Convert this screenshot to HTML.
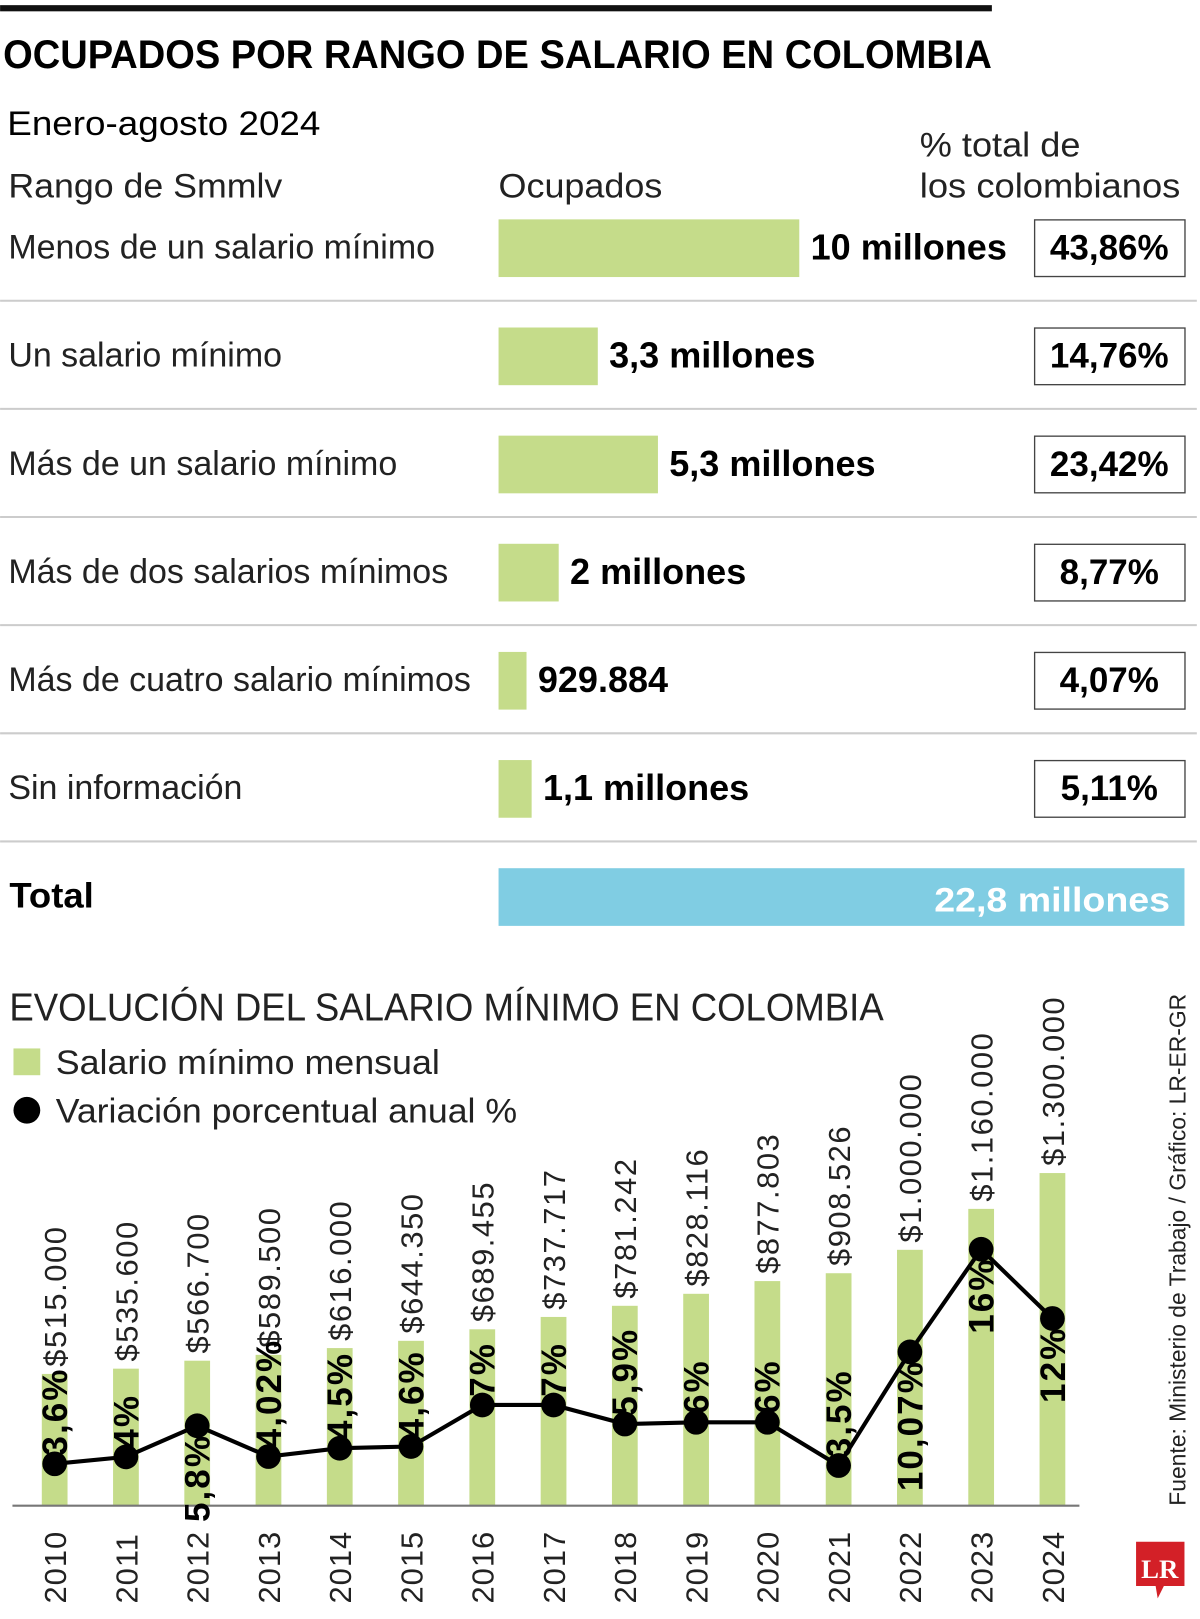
<!DOCTYPE html>
<html><head><meta charset="utf-8"><style>
html,body{margin:0;padding:0;background:#fff;width:1200px;height:1619px;overflow:hidden}
svg{display:block}
text{font-family:"Liberation Sans",sans-serif}
</style></head><body>
<svg id="s" width="1200" height="1619" viewBox="0 0 1165 1572" xmlns="http://www.w3.org/2000/svg">
<rect x="0" y="5" width="963" height="6" fill="#111"/>
<text x="3" y="66" font-weight="bold" font-size="39" textLength="960" lengthAdjust="spacingAndGlyphs">OCUPADOS POR RANGO DE SALARIO EN COLOMBIA</text>
<text x="7" y="131" font-size="33" textLength="304" lengthAdjust="spacingAndGlyphs">Enero-agosto 2024</text>
<text x="8" y="192" font-size="33" fill="#222" textLength="266" lengthAdjust="spacingAndGlyphs">Rango de Smmlv</text>
<text x="484" y="192" font-size="33" fill="#222" textLength="159" lengthAdjust="spacingAndGlyphs">Ocupados</text>
<text x="893" y="152" font-size="33" fill="#222" textLength="156" lengthAdjust="spacingAndGlyphs">% total de</text>
<text x="893" y="192" font-size="33" fill="#222" textLength="253" lengthAdjust="spacingAndGlyphs">los colombianos</text>
<g id="rows"></g>
<rect x="484" y="843" width="666" height="56" fill="#80cde3"/>
<text x="9" y="881" font-weight="bold" font-size="34" textLength="82" lengthAdjust="spacingAndGlyphs">Total</text>
<text x="1136" y="885" text-anchor="end" font-weight="bold" font-size="33" fill="#fff" textLength="229" lengthAdjust="spacingAndGlyphs">22,8 millones</text>
<text x="9" y="991" font-size="38" fill="#222" textLength="849" lengthAdjust="spacingAndGlyphs">EVOLUCIÓN DEL SALARIO MÍNIMO EN COLOMBIA</text>
<rect x="13" y="1018" width="26" height="26" fill="#c5dc8a"/>
<text x="54" y="1043" font-size="33" fill="#222" textLength="373" lengthAdjust="spacingAndGlyphs">Salario mínimo mensual</text>
<circle cx="26" cy="1078" r="13" fill="#000"/>
<text x="54" y="1090" font-size="33" fill="#222" textLength="448" lengthAdjust="spacingAndGlyphs">Variación porcentual anual %</text>
<g id="chart"></g>
<text transform="translate(1151,1462) rotate(-90)" font-size="22" fill="#222" textLength="497" lengthAdjust="spacingAndGlyphs">Fuente: Ministerio de Trabajo / Gráfico: LR-ER-GR</text>
<g>
<path d="M1103 1497 H1150 V1540 H1130 L1124 1552 L1122 1540 H1103 Z" fill="#d32027"/>
<text x="1126" y="1532" text-anchor="middle" font-weight="bold" font-size="26" fill="#fff" style="font-family:'Liberation Serif',serif">LR</text>
</g>
</svg>
<script>
const NS="http://www.w3.org/2000/svg";
const rangeLabels=["Menos de un salario mínimo","Un salario mínimo","Más de un salario mínimo","Más de dos salarios mínimos","Más de cuatro salario mínimos","Sin información"];
const employedMillions=[10,3.3,5.3,2,0.929884,1.1];
const employedLabels=["10 millones","3,3 millones","5,3 millones","2 millones","929.884","1,1 millones"];
const pctLabels=["43,86%","14,76%","23,42%","8,77%","4,07%","5,11%"];
const years=["2010","2011","2012","2013","2014","2015","2016","2017","2018","2019","2020","2021","2022","2023","2024"];
const wages=[515000,535600,566700,589500,616000,644350,689455,737717,781242,828116,877803,908526,1000000,1160000,1300000];
const wageLabels=["$515.000","$535.600","$566.700","$589.500","$616.000","$644.350","$689.455","$737.717","$781.242","$828.116","$877.803","$908.526","$1.000.000","$1.160.000","$1.300.000"];
const pctChange=[3.6,4,5.8,4.02,4.5,4.6,7,7,5.9,6,6,3.5,10.07,16,12];
const pctChangeLabels=["3,6%","4%","5,8%","4,02%","4,5%","4,6%","7%","7%","5,9%","6%","6%","3,5%","10,07%","16%","12%"];
const labelBelow=[false,false,true,false,false,false,false,false,false,false,false,false,true,true,true];

function mk(tag,attrs,parent,txt){const e=document.createElementNS(NS,tag);for(const k in attrs)e.setAttribute(k,attrs[k]);if(txt!==undefined)e.textContent=txt;parent.appendChild(e);return e;}

const rows=document.getElementById('rows');
const xBar=v=>v*29.2;
rangeLabels.forEach((lab,i)=>{
  const top=213+i*105;
  const t=mk('text',{x:8,y:top+38,'font-size':33,fill:'#222'},rows,lab);
  
  
  const w=xBar(employedMillions[i]);
  const r=mk('rect',{x:484,y:top,width:w,height:56,fill:'#c5dc8a'},rows);
  
  
  const v=mk('text',{x:484+w+11,y:top+39,'font-size':35,'font-weight':'bold'},rows,employedLabels[i]);
  
  
  const b=mk('rect',{x:1004.5,y:top+0.5,width:146,height:55,fill:'none',stroke:'#444','stroke-width':1.3},rows);
  
  
  const p=mk('text',{x:1077,y:top+39,'text-anchor':'middle','font-size':34,'font-weight':'bold'},rows,pctLabels[i]);
  
  
  const sep=mk('line',{x1:0,x2:1162,y1:top+79,y2:top+79,stroke:'#ccc','stroke-width':2},rows);
  
  
});

const ch=document.getElementById('chart');
const base=1462;
const xPos=i=>53+i*69.2;
const yWage=v=>base-v*(323/1300000);
const yPct=v=>1423-(v-3.5)*16.8;
years.forEach((yr,i)=>{
  const x=xPos(i),yt=yWage(wages[i]);
  const r=mk('rect',{x:x-12.5,y:yt,width:25,height:base-yt,fill:'#c5dc8a'},ch);
  
  
  const wl=mk('text',{transform:`translate(${x+11},${yt-7}) rotate(-90)`,'font-size':30,fill:'#222','letter-spacing':'1.5'},ch,wageLabels[i]);
  
  
  const yl=mk('text',{transform:`translate(${x+11},1557) rotate(-90)`,'font-size':30,fill:'#222','letter-spacing':'1'},ch,yr);
  
  
});
const ax=mk('line',{x1:12,x2:1048,y1:base,y2:base,stroke:'#777','stroke-width':2},ch);


const pts=pctChange.map((v,i)=>`${xPos(i)},${yPct(v)}`).join(' ');
const pl=mk('polyline',{points:pts,fill:'none',stroke:'#000','stroke-width':4},ch);


pctChange.forEach((v,i)=>{
  const x=xPos(i),y=yPct(v);
  const c=mk('circle',{cx:x,cy:y,r:12,fill:'#000'},ch);
  
  
  const t=mk('text',{transform:`translate(${x+12},${y-8}) rotate(-90)`,'font-size':34,'font-weight':'bold',fill:'#000','letter-spacing':'2'},ch,pctChangeLabels[i]);
  if(labelBelow[i]){t.setAttribute('transform',`translate(${x+12},${y+8}) rotate(-90)`);t.setAttribute('text-anchor','end');}
  
  
});
</script>
</body></html>
